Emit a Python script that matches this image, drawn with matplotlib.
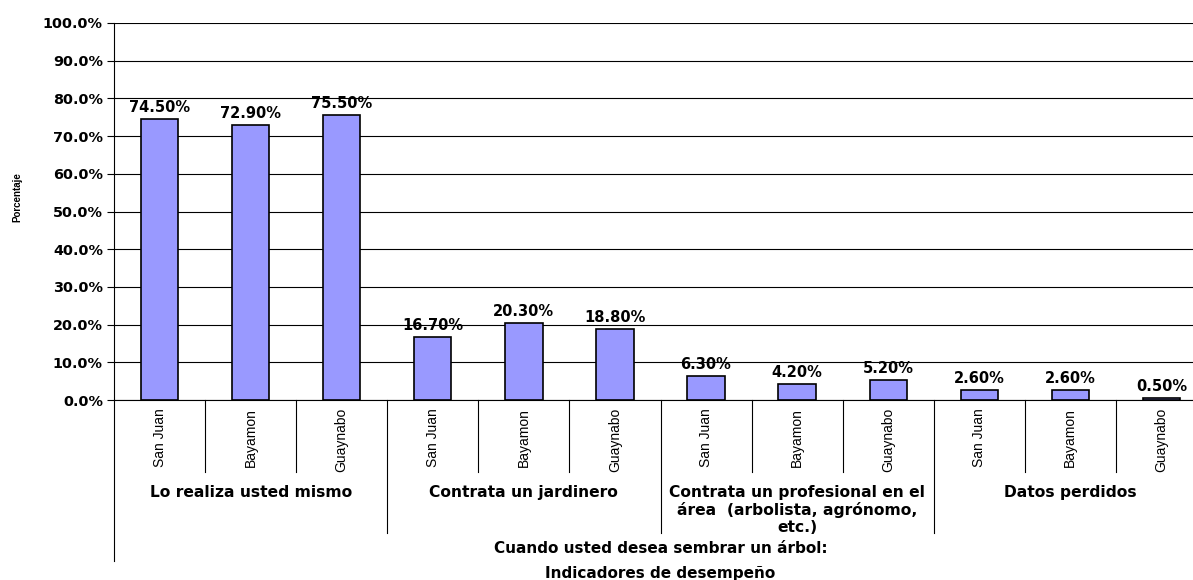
#!/usr/bin/env python3

# imports
import numpy as np
import matplotlib
matplotlib.use("Agg")
import matplotlib.pyplot as plt

# data
groups = ["Lo realiza usted mismo",
          "Contrata un jardinero",
          "Contrata un profesional en el\nárea  (arbolista, agrónomo,\netc.)",
          "Datos perdidos"]
cities = ["San Juan", "Bayamon", "Guaynabo"]
san_juan = [74.5, 16.7, 6.3, 2.6]
bayamon = [72.9, 20.3, 4.2, 2.6]
guaynabo = [75.5, 18.8, 5.2, 0.5]
y_ticks = [0, 10, 20, 30, 40, 50, 60, 70, 80, 90, 100]
x_title = ["Cuando usted desea sembrar un árbol:", "Indicadores de desempeño"]
y_title = "Porcentaje"

# flatten into one bar per (group, city)
values = []
labels = []
for g in range(len(groups)):
    for series in (san_juan, bayamon, guaynabo):
        values.append(series[g])
    labels.extend(cities)
x = np.arange(len(values))

fig = plt.figure(figsize=(11.93, 5.80), dpi=100)
ax = fig.add_axes([114 / 1193, 1 - 400 / 580, 1093 / 1193, 377 / 580])

ax.bar(x, values, width=0.41, color="#9999FF", edgecolor="black", linewidth=1.2, zorder=3)

# value labels above the bars
for xi, v in zip(x, values):
    ax.annotate(f"{v:.2f}%", (xi, v), xytext=(0, 3), textcoords="offset points",
                ha="center", va="bottom", fontsize=10.5, fontweight="bold")

ax.set_xlim(-0.5, len(values) - 0.5)
ax.set_ylim(0, 100)
ax.set_yticks(y_ticks)
ax.set_yticklabels([f"{t:.1f}%" for t in y_ticks], fontsize=10.4, fontweight="bold")
ax.tick_params(axis="y", direction="out", length=5, width=0.8, pad=3)
ax.set_xticks([])
ax.grid(axis="y", color="black", linewidth=0.8, zorder=0)
ax.set_axisbelow(True)
for side in ("top", "right"):
    ax.spines[side].set_visible(False)
ax.spines["left"].set_linewidth(0.8)
ax.spines["bottom"].set_linewidth(0.8)

# multi-level category axis drawn by hand
tr = ax.get_xaxis_transform()
ax.plot([-0.5, -0.5], [0, -0.427], color="black", lw=0.8, transform=tr, clip_on=False)
for i in range(len(values)):
    b = i + 0.5
    low = -0.353 if (i + 1) % 3 == 0 else -0.191
    ax.plot([b, b], [0, low], color="black", lw=0.8, transform=tr, clip_on=False)
for xi, name in zip(x, labels):
    ax.text(xi, -0.021, name, rotation=90, ha="center", va="top", transform=tr,
            fontsize=10, family=["Liberation Sans", "DejaVu Sans"])
for g, name in enumerate(groups):
    ax.text(g * 3 + 1, -0.226, name, ha="center", va="top", multialignment="center",
            transform=tr, fontsize=11.2, fontweight="bold", linespacing=1.15)

ax.text(0.5, -0.395, x_title[0], ha="center", va="center", transform=ax.transAxes,
        fontsize=11, fontweight="bold")
ax.text(0.5, -0.4615, x_title[1], ha="center", va="center", transform=ax.transAxes,
        fontsize=11, fontweight="bold")
fig.text(17 / 1193, 1 - 197 / 580, y_title, rotation=90, ha="center", va="center",
         fontsize=7, fontweight="bold", family=["Liberation Sans Narrow", "Liberation Sans"])

plt.savefig("out.png", dpi=100)
